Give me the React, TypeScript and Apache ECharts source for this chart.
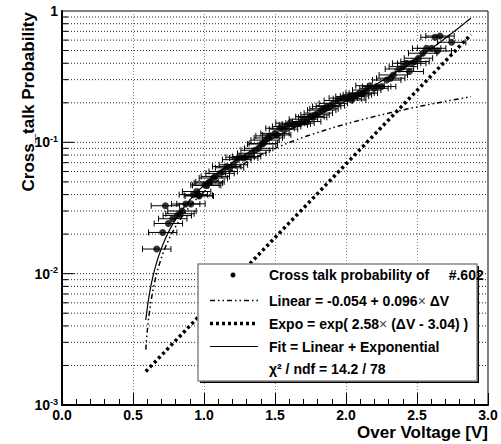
import React, { useEffect, useRef } from "react";
import * as echarts from "echarts";

const FONT = "Liberation Sans, Arial, Helvetica, sans-serif";

// measured data points (over voltage [V], cross talk probability)
const ptX = [0.667,0.709,0.728,0.749,0.780,0.812,0.831,0.845,0.871,0.908,0.925,0.948,0.960,0.967,1.007,1.019,1.030,1.042,1.066,1.080,1.113,1.135,1.160,1.180,1.207,1.230,1.254,1.280,1.300,1.336,1.360,1.385,1.406,1.418,1.430,1.453,1.465,1.500,1.512,1.535,1.560,1.582,1.606,1.629,1.650,1.676,1.700,1.723,1.746,1.765,1.782,1.805,1.829,1.845,1.864,1.890,1.911,1.946,1.981,2.010,2.028,2.040,2.060,2.080,2.099,2.122,2.146,2.169,2.197,2.216,2.251,2.287,2.315,2.333,2.376,2.404,2.427,2.446,2.463,2.486,2.510,2.540,2.568,2.603,2.627,2.643,2.662,2.744];
const ptY = [0.0154,0.0206,0.0329,0.0241,0.0262,0.0277,0.0286,0.0300,0.0339,0.0340,0.0400,0.0422,0.0395,0.0390,0.0473,0.0470,0.0490,0.0500,0.0535,0.0550,0.0580,0.0600,0.0655,0.0640,0.0675,0.0738,0.0770,0.0760,0.0780,0.0826,0.0870,0.0900,0.0970,0.0980,0.1040,0.1080,0.1120,0.1170,0.1140,0.1280,0.1260,0.1320,0.1400,0.1360,0.1380,0.1400,0.1500,0.1440,0.1570,0.1550,0.1620,0.1670,0.1760,0.1800,0.1870,0.1900,0.1980,0.2080,0.2170,0.2150,0.2230,0.2100,0.2250,0.2300,0.2370,0.2370,0.2500,0.2700,0.2580,0.2660,0.2660,0.2980,0.3080,0.3260,0.3620,0.3770,0.4000,0.3460,0.4000,0.4120,0.4370,0.4770,0.5200,0.5200,0.6310,0.4960,0.6450,0.5780];
const X_ERR = 0.1;

// fit parameters (from legend)
const LIN_A = -0.054;
const LIN_B = 0.096;
const EXP_K = 2.58;
const EXP_X0 = 3.04;
const FIT_X_MIN = 0.59;
const FIT_X_MAX = 2.885;

// axis tick / grid values
const xTickLabels = ["0.0", "0.5", "1.0", "1.5", "2.0", "2.5", "3.0"];
const yGridValues = [0.002,0.003,0.004,0.005,0.006,0.007,0.008,0.009,0.01,0.02,0.03,0.04,0.05,0.06,0.07,0.08,0.09,0.1,0.2,0.3,0.4,0.5,0.6,0.7,0.8,0.9];
const yMajor = [0.01, 0.1];

const NB = "\u00a0";
const legendTexts = [
  "Cross talk probability of" + NB.repeat(5) + "#.602",
  "Linear = -0.054 + 0.096{n|\u00d7}" + NB + "\u0394V",
  "Expo = exp( 2.58{n|\u00d7}" + NB + "(\u0394V - 3.04) )",
  "Fit = Linear + Exponential",
  "\u03c7\u00b2 / ndf = 14.2 / 78",
];

function lin(x: number) { return LIN_A + LIN_B * x; }
function expo(x: number) { return Math.exp(EXP_K * (x - EXP_X0)); }

export default function App() {
  const ref = useRef<HTMLDivElement>(null);
  useEffect(() => {
    if (!ref.current) return;
    const chart = echarts.init(ref.current, null, { renderer: "svg" });
    const xs: number[] = [];
    for (let i = 0; ; i++) {
      const x = FIT_X_MIN + i * 0.01;
      if (x > FIT_X_MAX + 1e-9) break;
      xs.push(x);
    }
    const linData = xs.map((x) => [x, lin(x)]);
    const expData = xs.map((x) => [x, expo(x)]);
    const fitData = xs.map((x) => [x, lin(x) + expo(x)]);
    const pts = ptX.map((x, i) => [x, ptY[i], X_ERR]);

    const legX0 = 198, legY0 = 264, legW = 279, legH = 117;
    const rowY = [275, 300.5, 323.5, 346.5, 368.5];
    const textStyleBase = { fontFamily: FONT, fontSize: 14, fontWeight: "bold", fill: "#000", textVerticalAlign: "middle" };

    const option: any = {
      animation: false,
      grid: { left: 62, top: 11, width: 426, height: 394, show: true, borderColor: "#000", borderWidth: 1, backgroundColor: "#fff" },
      xAxis: {
        type: "value", min: 0, max: 3, interval: 0.5,
        axisLine: { show: true, onZero: false, lineStyle: { color: "#000", width: 2 } },
        axisTick: { show: true, inside: true, length: 12, lineStyle: { color: "#000", width: 1 } },
        minorTick: { show: true, splitNumber: 5, length: 6, lineStyle: { color: "#000", width: 1 } },
        splitLine: { show: true, lineStyle: { color: "#888", width: 1, type: [1, 2] } },
        axisLabel: {
          formatter: (v: number) => xTickLabels[Math.round(v / 0.5)] ?? v.toFixed(1),
          color: "#000", fontSize: 14, fontWeight: "bold", fontFamily: FONT, margin: 3,
        },
      },
      yAxis: {
        type: "log", logBase: 10, min: 0.001, max: 1,
        axisLine: { show: true, onZero: false, lineStyle: { color: "#000", width: 2 } },
        axisTick: { show: false },
        minorTick: { show: false },
        splitLine: { show: false },
        axisLabel: {
          margin: 4,
          formatter: (v: number) => {
            if (Math.abs(v - 1) < 1e-9) return "{b|1}";
            return "{b|10}{s|" + Math.round(Math.log10(v)) + "}";
          },
          rich: {
            b: { fontSize: 14, fontWeight: "bold", fontFamily: FONT, color: "#000", lineHeight: 16 },
            s: { fontSize: 9, fontWeight: "bold", fontFamily: FONT, color: "#000", verticalAlign: "top", lineHeight: 10 },
          },
        },
      },
      series: [
        {
          type: "custom", name: "grid", z: 1, silent: true,
          data: yGridValues.map((v) => [0, v, yMajor.indexOf(v) >= 0 ? 1 : 0]),
          encode: { x: 0, y: 1 },
          renderItem: (_p: any, api: any) => {
            const v = api.value(1);
            const a = api.coord([0, v]);
            const b = api.coord([3, v]);
            const len = api.value(2) ? 12 : 6;
            return {
              type: "group",
              children: [
                { type: "line", shape: { x1: a[0], y1: a[1], x2: b[0], y2: b[1] }, style: { stroke: "#222", lineWidth: 1, lineDash: [1, 2] } },
                { type: "line", shape: { x1: a[0], y1: a[1], x2: a[0] + len, y2: a[1] }, style: { stroke: "#000", lineWidth: 1 } },
              ],
            };
          },
        },
        {
          type: "line", name: "Linear", data: linData, showSymbol: false, z: 3,
          lineStyle: { color: "#000", width: 1.5, type: [5, 3, 1.5, 3, 1.5, 3] },
        },
        {
          type: "line", name: "Expo", data: expData, showSymbol: false, z: 3,
          lineStyle: { color: "#000", width: 3.5, type: [3, 3] },
        },
        {
          type: "line", name: "Fit", data: fitData, showSymbol: false, z: 3,
          lineStyle: { color: "#000", width: 1.2 },
        },
        {
          type: "custom", name: "errors", z: 4, silent: true,
          data: pts, dimensions: ["x", "y", "e"],
          encode: { x: 0, y: 1 },
          renderItem: (_p: any, api: any) => {
            const x = api.value(0), y = api.value(1), e = api.value(2);
            const a = api.coord([x - e, y]);
            const b = api.coord([x + e, y]);
            const st = { stroke: "#000", lineWidth: 1 };
            return {
              type: "group",
              children: [
                { type: "line", shape: { x1: a[0], y1: a[1], x2: b[0], y2: b[1] }, style: st },
                { type: "line", shape: { x1: a[0], y1: a[1] - 3, x2: a[0], y2: a[1] + 3 }, style: st },
                { type: "line", shape: { x1: b[0], y1: b[1] - 3, x2: b[0], y2: b[1] + 3 }, style: st },
              ],
            };
          },
        },
        {
          type: "scatter", name: "Data", data: pts.map((p) => [p[0], p[1]]), z: 5,
          symbol: "circle", symbolSize: 7, itemStyle: { color: "#000" },
        },
      ],
      graphic: [
        { type: "text", x: 28, y: 12, rotation: Math.PI / 2, z: 10,
          style: { text: "Cross_talk Probability", fontFamily: FONT, fontSize: 17, fontWeight: "bold", fill: "#000", textAlign: "right", textVerticalAlign: "middle" } },
        { type: "text", x: 488, y: 432, z: 10,
          style: { text: "Over Voltage [V]", fontFamily: FONT, fontSize: 17, fontWeight: "bold", fill: "#000", textAlign: "right", textVerticalAlign: "middle" } },
        { type: "rect", z: 20, shape: { x: legX0 + 2, y: legY0 + 2, width: legW, height: legH }, style: { fill: "#000" } },
        { type: "rect", z: 21, shape: { x: legX0, y: legY0, width: legW, height: legH }, style: { fill: "#fff", stroke: "#888", lineWidth: 1.5 } },
        { type: "circle", z: 22, shape: { cx: 233, cy: rowY[0], r: 2.5 }, style: { fill: "#000" } },
        { type: "line", z: 22, shape: { x1: 210, y1: rowY[1], x2: 258, y2: rowY[1] }, style: { stroke: "#000", lineWidth: 1.5, lineDash: [5, 3, 1.5, 3, 1.5, 3] } },
        { type: "line", z: 22, shape: { x1: 210, y1: rowY[2], x2: 258, y2: rowY[2] }, style: { stroke: "#000", lineWidth: 3.5, lineDash: [3, 3] } },
        { type: "line", z: 22, shape: { x1: 210, y1: rowY[3], x2: 258, y2: rowY[3] }, style: { stroke: "#000", lineWidth: 1.2 } },
        ...legendTexts.map((t, i) => ({
          type: "text", z: 22, x: 269, y: rowY[i],
          style: { ...textStyleBase, text: t, rich: { n: { fontFamily: FONT, fontSize: 14, fontWeight: "normal", fill: "#444" } } },
        })),
      ],
    };
    chart.setOption(option);
    return () => chart.dispose();
  }, []);
  return <div ref={ref} style={{ position: "fixed", left: 0, top: 0, width: 501, height: 444, background: "#fff" }} />;
}
